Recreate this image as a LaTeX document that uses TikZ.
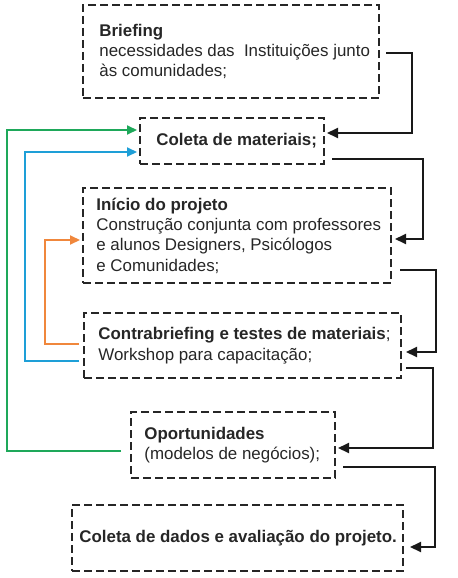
\documentclass[tikz,border=0pt]{standalone}
\usepackage{fontspec}
\setmainfont{Liberation Sans}
\usetikzlibrary{arrows.meta}

\definecolor{verde}{RGB}{30,168,90}
\definecolor{azul}{RGB}{30,159,215}
\definecolor{laranja}{RGB}{240,135,60}

\begin{document}
\begin{tikzpicture}[x=0.5pt,y=-0.5pt,
       etapa/.style={draw=black!85,line width=1pt,dash pattern=on 4pt off 2pt,inner sep=0pt},
       texto/.style={anchor=west,align=left,inner sep=0pt,text=black!85,
              font=\fontsize{8.45}{10.2}\selectfont},
       seta/.style={line width=1pt,draw=black!90,-{Triangle[length=5.5pt,width=5pt]}},
       volta/.style={line width=1pt,-{Triangle[length=5pt,width=4.5pt]}}]
       \useasboundingbox(0,0)rectangle(457,578);%枠

       \node[etapa,minimum width=148pt,minimum height=46.5pt,
           label={[texto,xshift=8.5pt]west:{\textbf{Briefing}\\
           necessidades das\ \ Instituições junto\\às comunidades;}}]
           (briefing)at(231,51.5){};%Briefing
       \node[etapa,minimum width=92pt,minimum height=23pt,
           label={[texto,xshift=8.5pt]west:{\textbf{Coleta de materiais;}}}]
           (coleta)at(232,141){};%コレータ
       \node[etapa,minimum width=154pt,minimum height=47.5pt,
           label={[texto,xshift=7pt]west:{\textbf{Início do projeto}\\
           Construção conjunta com professores\\
           e alunos Designers, Psicólogos\\e Comunidades;}}]
           (inicio)at(237,235.5){};%開始
       \node[etapa,minimum width=158.5pt,minimum height=32.5pt,
           label={[texto,xshift=7.5pt]west:{\textbf{Contrabriefing e testes de materiais};\\
           Workshop para capacitação;}}]
           (contra)at(242.5,345.5){};%テスト
       \node[etapa,minimum width=102pt,minimum height=33pt,
           label={[texto,xshift=7pt]west:{\textbf{Oportunidades}\\(modelos de negócios);}}]
           (oport)at(233,445){};%機会
       \node[etapa,minimum width=165.5pt,minimum height=33pt,
           label={[texto,xshift=4pt]west:{\textbf{Coleta de dados e avaliação do projeto.}}}]
           (dados)at(237.5,538){};%評価

       \draw[seta]([xshift=3pt,yshift=-0.75pt]briefing.east)--++(26,0)
           |-([xshift=1pt,yshift=4pt]coleta.east);%矢印1
       \draw[seta]([xshift=3.5pt,yshift=-9pt]coleta.east)--++(91,0)
           |-([xshift=1.5pt,yshift=-1.75pt]inicio.east);%矢印2
       \draw[seta]([xshift=4pt,yshift=-17.25pt]inicio.east)--++(36,0)
           |-([xshift=2pt,yshift=-3.25pt]contra.east);%矢印3
       \draw[seta]([xshift=2pt,yshift=-11.25pt]contra.east)--++(27,0)
           |-([xshift=1pt,yshift=-1.5pt]oport.east);%矢印4
       \draw[seta]([xshift=3.5pt,yshift=-11pt]oport.east)--++(92,0)
           |-([xshift=3pt,yshift=-4.5pt]dados.east);%矢印5

       \draw[volta,verde]([xshift=-4.5pt,yshift=-3pt]oport.west)--++(-114,0)
           |-([xshift=-1pt,yshift=5.5pt]coleta.west);%緑
       \draw[volta,azul]([xshift=-2pt,yshift=-7.75pt]contra.west)--++(-54,0)
           |-([xshift=-1pt,yshift=-5.5pt]coleta.west);%青
       \draw[volta,laranja]([xshift=-2pt,yshift=0.75pt]contra.west)--++(-34,0)
           |-([xshift=-1pt,yshift=-2.25pt]inicio.west);%橙

      \end{tikzpicture}
\end{document}
